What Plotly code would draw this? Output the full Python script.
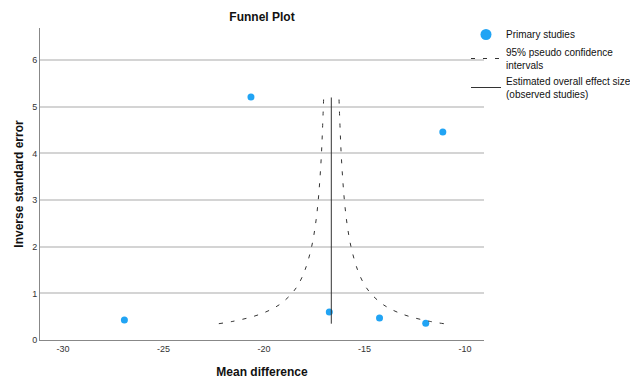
import plotly.graph_objects as go

# Primary studies
study_md = [-26.95, -20.65, -16.75, -14.25, -11.95, -11.1]
study_inv_se = [0.43, 5.21, 0.60, 0.47, 0.36, 4.46]

# Estimated overall effect size (observed studies)
effect_x = [-16.65, -16.65]
effect_y = [0.35, 5.2]

# 95% pseudo confidence interval curves
ci_y = [0.35, 0.4, 0.5, 0.6, 0.7, 0.8, 1.0, 1.2, 1.5, 2.0, 2.5, 3.0, 3.5, 4.0, 4.5, 5.2]
ci_left = [-22.25, -21.55, -20.57, -19.92, -19.45, -19.10, -18.61, -18.28, -17.96,
           -17.63, -17.43, -17.30, -17.21, -17.14, -17.09, -17.03]
ci_right = [-11.05, -11.75, -12.73, -13.38, -13.85, -14.20, -14.69, -15.02, -15.34,
            -15.67, -15.87, -16.00, -16.09, -16.16, -16.21, -16.27]

x_ticks = [-30, -25, -20, -15, -10]
y_ticks = [0, 1, 2, 3, 4, 5, 6]

blue = "#21a4f4"
font = "Liberation Sans, Arial, sans-serif"

fig = go.Figure()
# legend-only marker entry
fig.add_trace(go.Scatter(x=[None], y=[None], mode="markers", name="Primary studies",
                         marker=dict(color=blue, size=11), legendgroup="p"))
fig.add_trace(go.Scatter(x=study_md, y=study_inv_se, mode="markers", showlegend=False,
                         marker=dict(color=blue, size=7), legendgroup="p",
                         cliponaxis=False))
fig.add_trace(go.Scatter(x=ci_left, y=ci_y, mode="lines",
                         name="95% pseudo confidence<br>intervals", legendgroup="p",
                         line=dict(color="#333333", width=1, dash="4px,8px", shape="spline")))
fig.add_trace(go.Scatter(x=ci_right, y=ci_y, mode="lines", showlegend=False, legendgroup="p",
                         line=dict(color="#333333", width=1, dash="4px,8px", shape="spline")))
fig.add_trace(go.Scatter(x=effect_x, y=effect_y, mode="lines", legendgroup="p",
                         name="Estimated overall effect size<br>(observed studies)",
                         line=dict(color="#333333", width=1)))

fig.update_layout(
    width=630, height=379,
    margin=dict(l=40, r=146, t=28, b=39, autoexpand=False),
    paper_bgcolor="white", plot_bgcolor="white",
    font=dict(family=font, size=10, color="#222222"),
    title=dict(text="<b>Funnel Plot</b>", x=262 / 630, xanchor="center",
               y=1 - 17 / 379, yanchor="middle", font=dict(size=12, color="#111111")),
    showlegend=True,
    legend=dict(xref="container", yref="container", x=466 / 630, xanchor="left",
                y=1 - 20 / 379, yanchor="top",
                bgcolor="rgba(0,0,0,0)", font=dict(size=10, color="#111111"),
                tracegroupgap=0, itemwidth=30),
    xaxis=dict(range=[-31.15, -9.05], tickvals=x_ticks, ticktext=[str(v) for v in x_ticks],
               showgrid=False, zeroline=False, showline=True, linecolor="#888888",
               linewidth=1, ticks="", tickfont=dict(size=9, color="#333333"),
               automargin=False,
               title=dict(text="<b>Mean difference</b>", font=dict(size=12, color="#111111"),
                          standoff=14)),
    yaxis=dict(range=[0, 6.69], tickvals=y_ticks, showgrid=True, gridcolor="#d4d4d4",
               gridwidth=1.5, zeroline=False, showline=True, linecolor="#888888",
               linewidth=1, ticks="", tickfont=dict(size=9, color="#333333"),
               automargin=False,
               title=dict(text="<b>Inverse standard error</b>",
                          font=dict(size=12, color="#111111"), standoff=5)),
)

fig.write_html("out.html", config={"displayModeBar": False},
               post_script="document.body.style.margin='0';")
